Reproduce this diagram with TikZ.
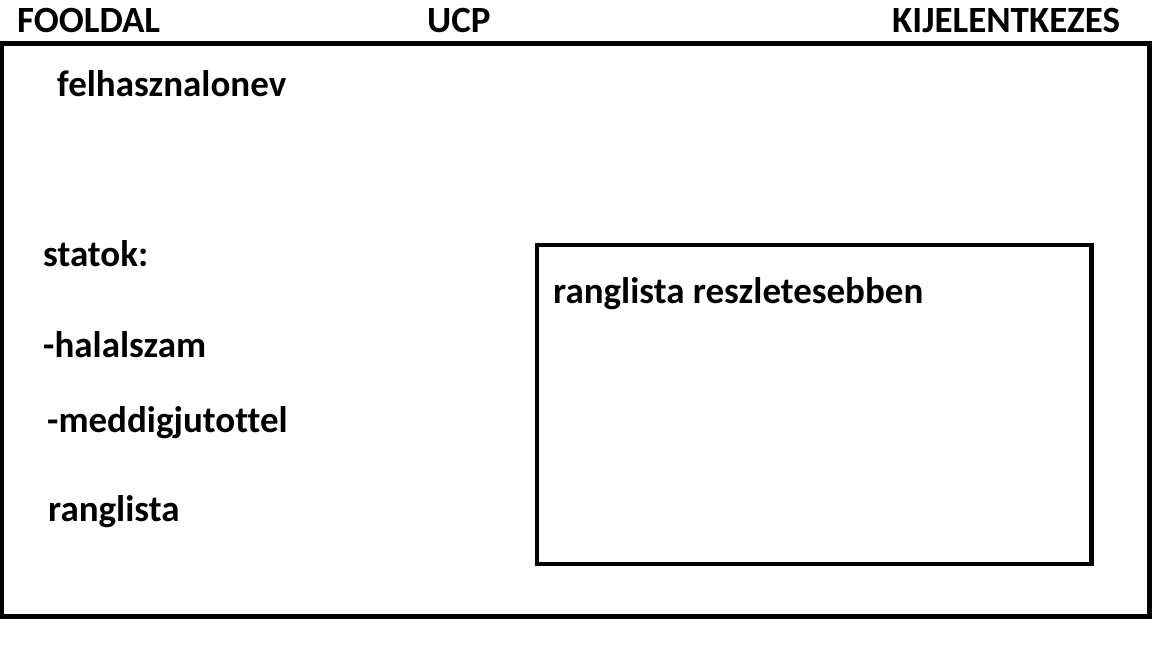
\documentclass[tikz,border=0pt]{standalone}
\usepackage{fontspec}
\setmainfont[Ligatures=CommonOff]{Carlito}
\tikzset{
  felirat/.style={anchor=base west, inner sep=0pt, font=\fontsize{37bp}{44bp}\selectfont\bfseries},
  keret/.style={draw=black, line width=4.5bp}
}
\begin{document}
\begin{tikzpicture}[x=1bp,y=-1bp]
    \useasboundingbox (0,0) rectangle (1152,648);

    % menusor
    \node[felirat] (fooldal) at (17,33) {FOOLDAL};
    \node[felirat] (ucp) at (427,33) {UCP};
    \node[felirat] (kijelentkezes) at (892,33) {KIJELENTKEZES};

    % nagy keret
    \draw[keret] (1.5,43.5) -- (1149.5,43.5) -- (1149.5,616.5) -- (1.5,616.5) --cycle;

    % bal oldal
    \node[felirat] (felhasznalonev) at (57,97) {felhasznalonev};
    \node[felirat] (statok) at (43,267) {statok:};
    \node[felirat] (halalszam) at (43,357) {-halalszam};
    \node[felirat] (meddigjutottel) at (47,432) {-meddigjutottel};
    \node[felirat] (ranglista) at (48,521) {ranglista};

    % ranglista doboz
    \draw[keret] (537,245) -- (1091.5,245) -- (1091.5,564) -- (537,564) --cycle;
    \node[felirat] (reszletes) at (553,304) {ranglista reszletesebben};

\end{tikzpicture}
\end{document}
